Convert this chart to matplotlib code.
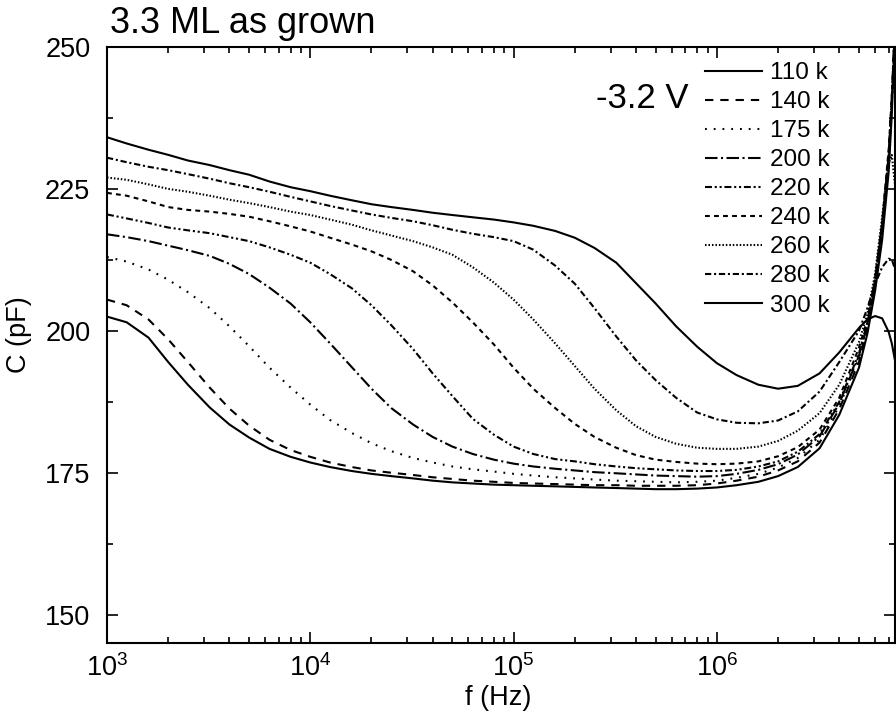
import numpy as np
import matplotlib.pyplot as plt
from matplotlib.ticker import MultipleLocator

plt.rcParams['font.family'] = 'Liberation Sans'
plt.rcParams['mathtext.fontset'] = 'custom'
plt.rcParams['mathtext.rm'] = 'Liberation Sans'
plt.rcParams['mathtext.it'] = 'Liberation Sans:italic'
plt.rcParams['lines.scale_dashes'] = False

# frequency grid (Hz)
freq = [1e3, 1.25e3, 1.6e3, 2e3, 2.5e3, 3.2e3, 4e3, 5e3, 6.3e3, 8e3,
        1e4, 1.25e4, 1.6e4, 2e4, 2.5e4, 3.2e4, 4e4, 5e4, 6.3e4, 8e4,
        1e5, 1.25e5, 1.6e5, 2e5, 2.5e5, 3.2e5, 4e5, 5e5, 6.3e5, 8e5,
        1e6, 1.25e6, 1.6e6, 2e6, 2.5e6, 3.2e6, 4e6, 5e6, 5.5e6, 6e6,
        6.5e6, 7e6, 7.25e6, 7.5e6]

# capacitance (pF) at each temperature
c110 = [202.5, 201.5, 198.8, 194.5, 190.5, 186.5, 183.5, 181.2, 179.2, 177.8,
        176.8, 176.0, 175.3, 174.8, 174.4, 174.0, 173.6, 173.3, 173.1, 172.9,
        172.8, 172.7, 172.6, 172.5, 172.4, 172.3, 172.2, 172.1, 172.1, 172.2,
        172.4, 172.8, 173.4, 174.4, 176.0, 179.3, 185.2, 193.5, 199.5, 207,
        216, 228, 238, 252]
c140 = [205.5, 204.5, 202, 198.5, 194.5, 190, 186.3, 183.3, 180.8, 179,
        177.8, 176.8, 176, 175.4, 175, 174.6, 174.2, 173.9, 173.6, 173.4,
        173.2, 173.1, 173, 172.9, 172.8, 172.8, 172.7, 172.7, 172.7, 172.8,
        173.1, 173.6, 174.3, 175.4, 177, 180.3, 186.2, 194.5, 200.5, 208,
        217.5, 230, 240, 253]
c175 = [213, 212.2, 210.8, 209, 206.8, 204, 200.8, 197.3, 193.5, 190,
        187, 184.3, 182, 180.2, 178.8, 177.6, 176.8, 176.1, 175.6, 175.2,
        174.8, 174.5, 174.2, 174, 173.8, 173.6, 173.5, 173.4, 173.3, 173.4,
        173.6, 174.1, 174.8, 175.9, 177.6, 180.8, 186.7, 195.2, 201, 208.5,
        218, 230.5, 241, 254]
c200 = [217, 216.5, 215.8, 215, 214.2, 213.2, 211.8, 210, 207.6, 204.8,
        201.5, 197.8, 193.6, 189.8, 186.4, 183.5, 181.3, 179.6, 178.3, 177.3,
        176.6, 176.1, 175.7, 175.4, 175.1, 174.9, 174.7, 174.5, 174.4, 174.3,
        174.4, 174.8, 175.5, 176.5, 178.2, 181.4, 187.2, 195.6, 201.2, 209,
        218.5, 231, 241, 254]
c220 = [220.5, 219.8, 219, 218.2, 217.7, 217.2, 216.5, 215.8, 214.7, 213.4,
        212, 210, 207.5, 204.5, 201, 196.8, 192.5, 188.5, 184.5, 181.7,
        179.6, 178.3, 177.4, 177, 176.5, 176.1, 175.8, 175.6, 175.4, 175.3,
        175.3, 175.5, 176.1, 177, 178.7, 181.8, 187.5, 196, 201.5, 209,
        219, 231, 240, 251]
c240 = [224.3, 223.8, 222.8, 221.8, 221.3, 221, 220.6, 220.1, 219.3, 218.4,
        217.5, 216.4, 215.2, 214, 212.5, 210.5, 208, 205, 201.5, 197.6,
        193.5, 189.8, 186.4, 183.6, 181.3, 179.4, 178.1, 177.3, 176.9, 176.6,
        176.5, 176.6, 177, 177.9, 179.5, 182.6, 188.2, 197, 202, 209,
        219, 232, 241, 252]
c260 = [227, 226.6, 225.8, 225, 224.5, 223.8, 223.1, 222.5, 221.8, 221,
        220.4, 219.6, 218.7, 217.7, 216.8, 215.8, 214.7, 213.4, 211.2, 208.5,
        205.5, 202, 197.8, 193.8, 189.8, 186, 183.2, 181.3, 180.1, 179.4,
        179.2, 179.2, 179.6, 180.6, 182.4, 185.5, 190.5, 198, 203, 210,
        220, 229.5, 231, 226]
c280 = [230.5, 229.7, 228.9, 228.3, 227.6, 226.8, 226, 225.3, 224.5, 223.6,
        222.8, 222, 221.2, 220.5, 219.9, 219.3, 218.6, 217.8, 217.1, 216.5,
        215.8, 214.3, 211.5, 208.3, 204, 199, 194.8, 191.3, 188.2, 185.6,
        184.4, 183.8, 183.7, 184.2, 185.8, 189.3, 194.5, 200, 204, 208.2,
        211.2, 212.7, 212.6, 211]
c300 = [234.1, 233, 231.9, 231, 230, 229.2, 228.3, 227.5, 226.3, 225.3,
        224.6, 223.8, 223, 222.3, 221.8, 221.3, 220.8, 220.4, 220, 219.6,
        219.1, 218.5, 217.6, 216.4, 214.6, 212, 208.4, 204.8, 200.8, 197.2,
        194.3, 192.2, 190.5, 189.8, 190.3, 192.5, 196.2, 200.5, 202, 202.6,
        202.2, 199.8, 197.8, 195]

curves = [c110, c140, c175, c200, c220, c240, c260, c280, c300]
labels = ['110 k', '140 k', '175 k', '200 k', '220 k', '240 k', '260 k', '280 k', '300 k']
styles = ['-',
          (0, (6, 5)),
          (0, (1.3, 5)),
          (0, (9, 2.5, 1.5, 2.5)),
          (0, (5, 2, 1.5, 2, 1.5, 2)),
          (0, (3.5, 3)),
          (0, (1.1, 1.4)),
          (0, (4.5, 2, 1.5, 2)),
          '-']

fig = plt.figure(figsize=(8.96, 7.17), dpi=100)
ax = fig.add_axes([107/896, 1-643/717, (895-107)/896, (643-47)/717])

for c, lab, ls in zip(curves, labels, styles):
    ax.plot(freq, c, color='black', linestyle=ls, linewidth=1.5, label=lab)

ax.set_xscale('log')
ax.set_xlim(1e3, 7.52e6)
ax.set_ylim(145, 250)
ax.set_yticks([150, 175, 200, 225, 250])
ax.yaxis.set_minor_locator(MultipleLocator(12.5))

for s in ax.spines.values():
    s.set_linewidth(1.5)
ax.tick_params(which='both', direction='in', top=True, right=True, width=1.2)
ax.tick_params(which='major', length=8, labelsize=19.5)
ax.tick_params(which='minor', length=4)
ax.tick_params(axis='x', which='major', pad=8)
ax.tick_params(axis='y', which='major', pad=12)

ax.set_xlabel('f (Hz)', fontsize=19.5)
ax.xaxis.set_label_coords(0.497, -0.07)
ax.set_ylabel('C (pF)', fontsize=19.5)
ax.yaxis.set_label_coords(-0.095, 0.517)

fig.text(110/896, 1-33/717, '3.3 ML as grown', fontsize=26, va='baseline')
fig.text(596/896, 1-108/717, '-3.2 V', fontsize=25, va='baseline')

ax.legend(loc='upper left', bbox_to_anchor=(705/896, 1-62/717), bbox_transform=fig.transFigure,
          frameon=False, fontsize=17.5, handlelength=2.35, handletextpad=0.33,
          labelspacing=0.29, borderpad=0, borderaxespad=0)

plt.savefig('out.png', dpi=100)
